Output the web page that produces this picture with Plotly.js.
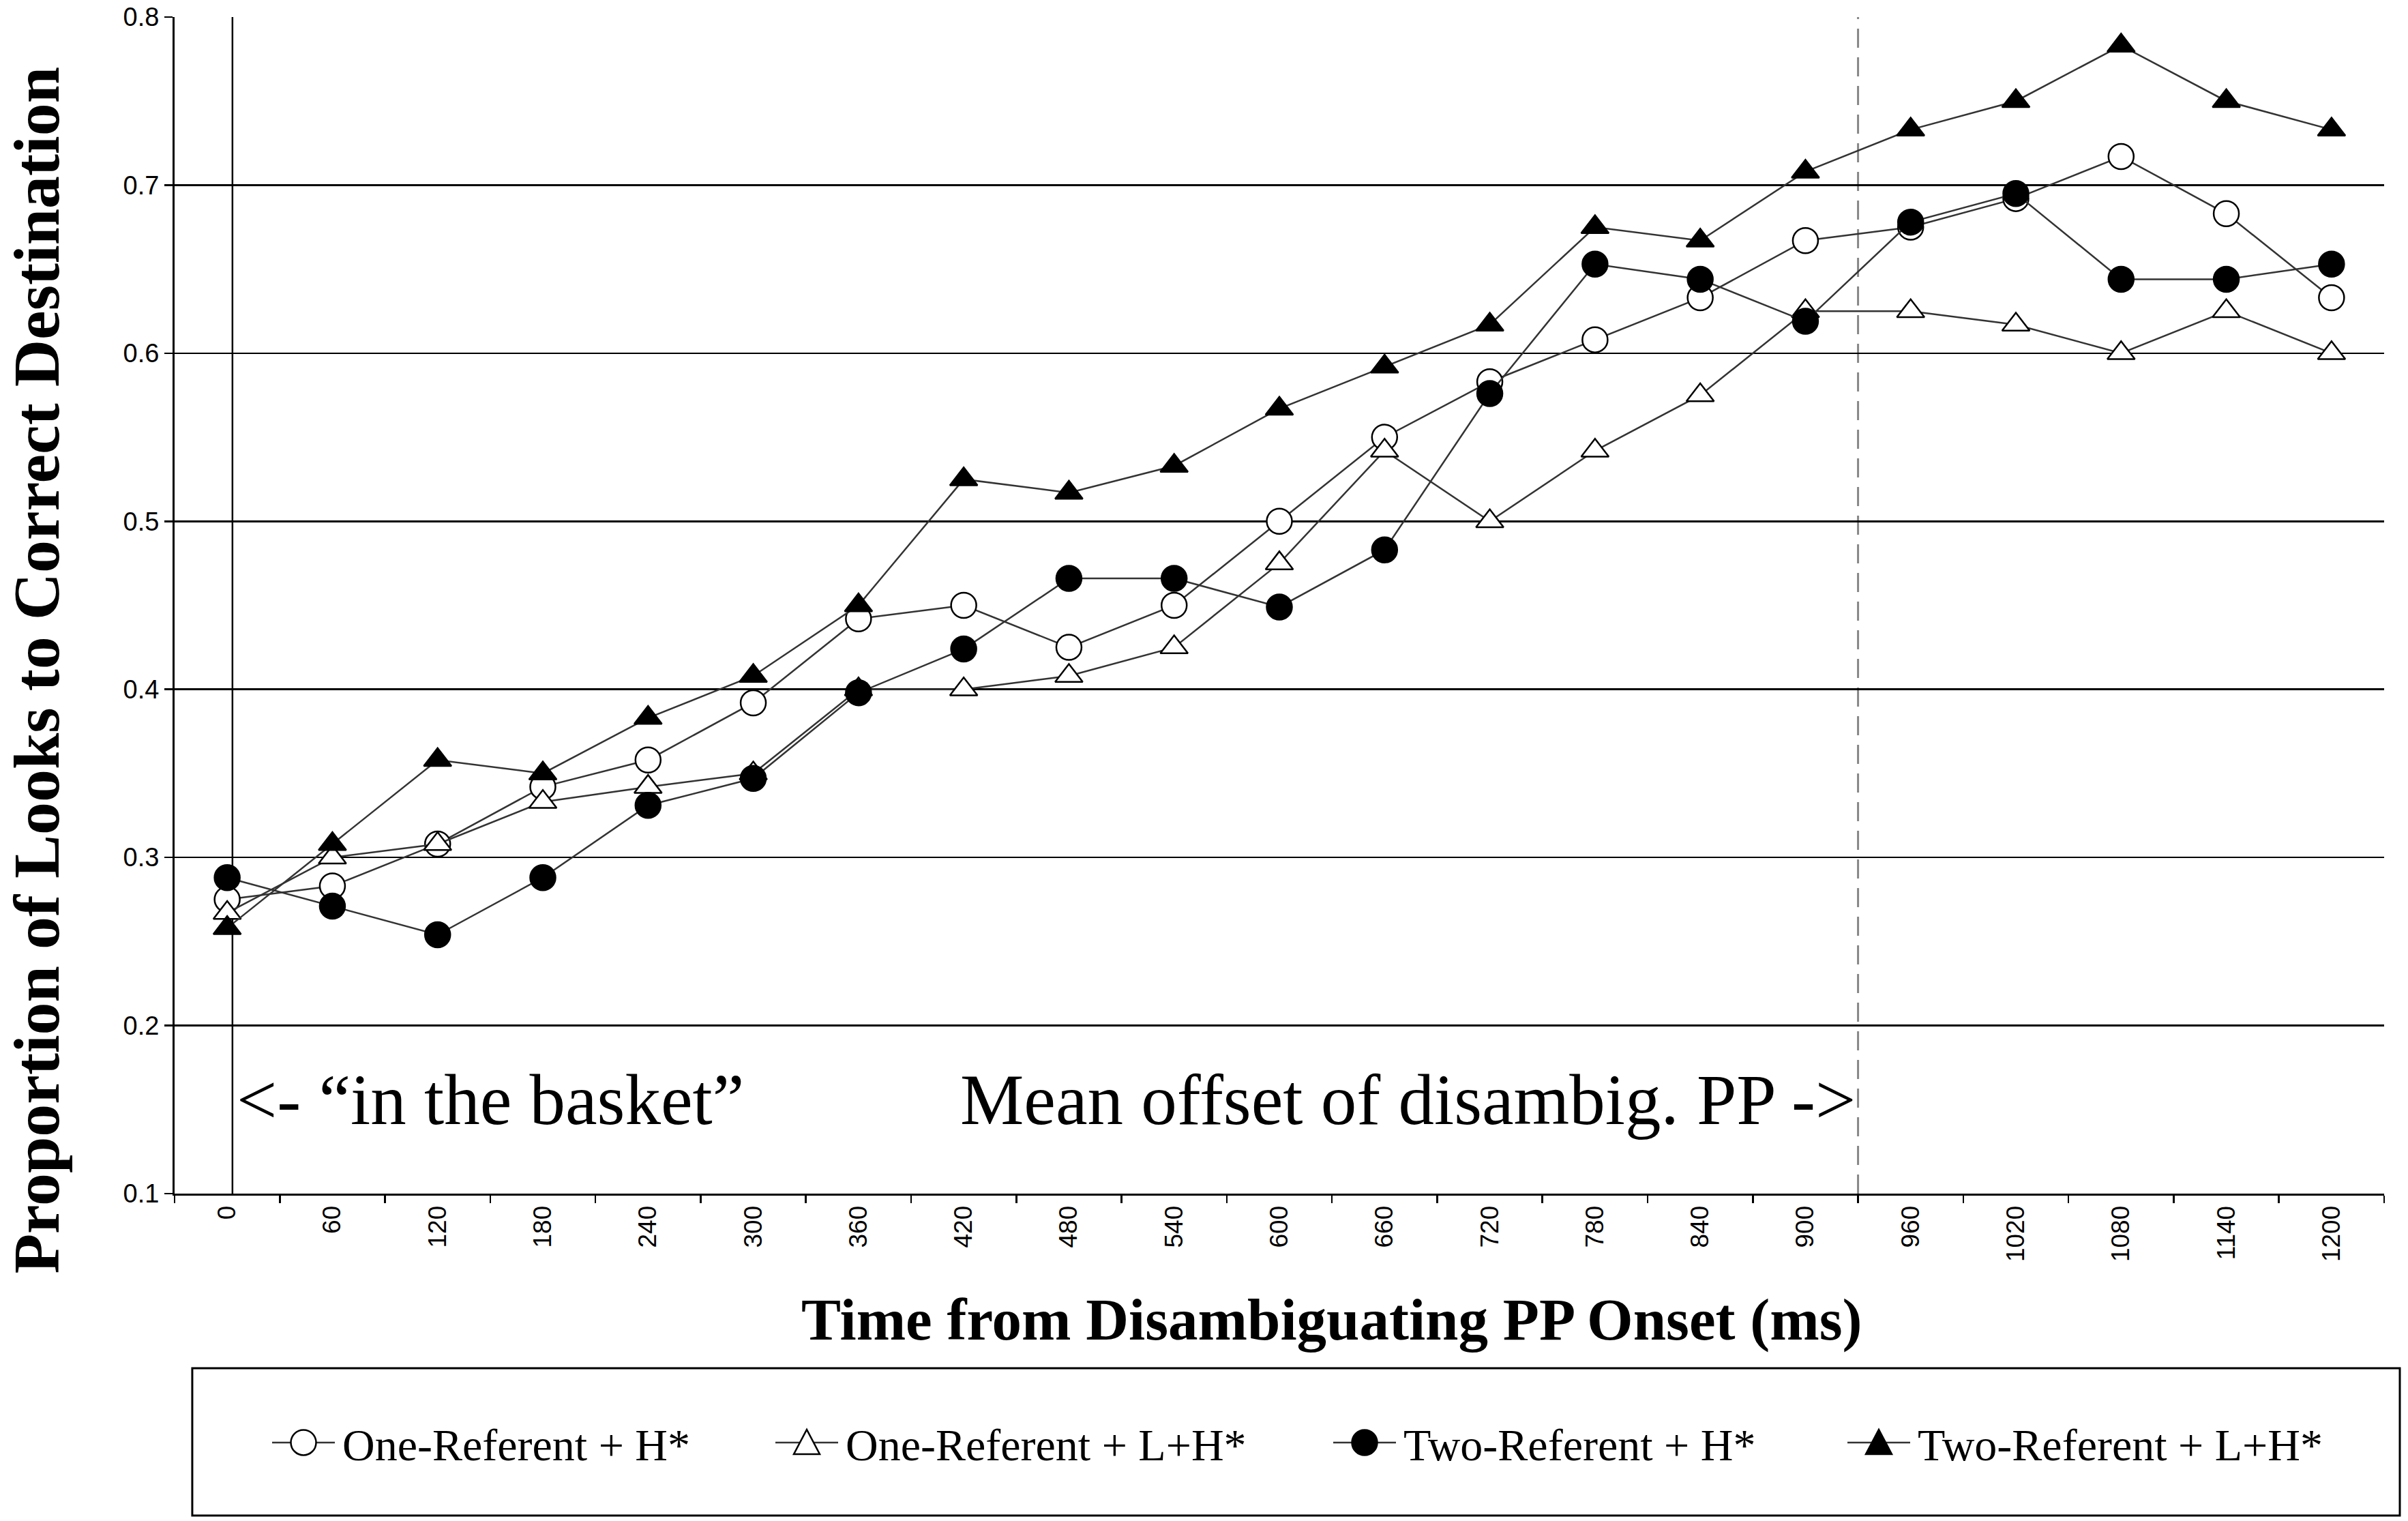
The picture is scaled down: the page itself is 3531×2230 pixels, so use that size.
<!DOCTYPE html>
<html>
<head>
<meta charset="utf-8">
<script src="https://cdn.plot.ly/plotly-3.0.1.min.js"></script>
<style>
  html, body { margin: 0; padding: 0; background: #fff; }
  #chart { width: 3531px; height: 2230px; }
</style>
</head>
<body>
<div id="chart"></div>
<script>
// time bins (ms) after the disambiguating PP onset
var times = ['0', '60', '120', '180', '240', '300', '360', '420', '480', '540', '600',
             '660', '720', '780', '840', '900', '960', '1020', '1080', '1140', '1200'];

// proportion of looks to the correct destination, per condition
var oneRefH   = [0.275, 0.283, 0.308, 0.342, 0.358, 0.392, 0.442, 0.450, 0.425, 0.450, 0.500,
                 0.550, 0.583, 0.608, 0.633, 0.667, 0.675, 0.692, 0.717, 0.683, 0.633];
var oneRefLH  = [0.267, 0.300, 0.308, 0.333, 0.342, 0.350, 0.400, 0.400, 0.408, 0.425, 0.475,
                 0.542, 0.500, 0.542, 0.575, 0.625, 0.625, 0.617, 0.600, 0.625, 0.600];
var twoRefH   = [0.288, 0.271, 0.254, 0.288, 0.331, 0.347, 0.398, 0.424, 0.466, 0.466, 0.449,
                 0.483, 0.576, 0.653, 0.644, 0.619, 0.678, 0.695, 0.644, 0.644, 0.653];
var twoRefLH  = [0.258, 0.308, 0.358, 0.350, 0.383, 0.408, 0.450, 0.525, 0.517, 0.533, 0.567,
                 0.592, 0.617, 0.675, 0.667, 0.708, 0.733, 0.750, 0.783, 0.750, 0.733];

var serif = 'Liberation Serif, Times New Roman, serif';
var sans = 'Liberation Sans, Arial, sans-serif';

function series(name, y, symbol, fill) {
  return {
    x: times,
    y: y,
    name: name,
    type: 'scatter',
    mode: 'lines+markers',
    line: { color: '#333', width: 2.5 },
    marker: {
      symbol: symbol,
      size: symbol.indexOf('triangle') === 0 ? 35 : 37,
      color: fill,
      line: { color: '#000', width: 2.5 }
    }
  };
}

var data = [
  series('One-Referent + H*', oneRefH, 'circle', '#fff'),
  series('One-Referent + L+H*', oneRefLH, 'triangle-up', '#fff'),
  series('Two-Referent + H*', twoRefH, 'circle', '#000'),
  series('Two-Referent + L+H*', twoRefLH, 'triangle-up', '#000')
];

var layout = {
  width: 3531,
  height: 2230,
  margin: { l: 256, r: 35, t: 25, b: 480 },
  paper_bgcolor: '#fff',
  plot_bgcolor: '#fff',
  showlegend: true,
  legend: {
    x: 0.0414, y: -0.2116, xanchor: 'left', yanchor: 'middle',
    orientation: 'h',
    itemwidth: 100,
    bgcolor: 'rgba(0,0,0,0)',
    borderwidth: 0,
    font: { family: serif, size: 66, color: '#000' }
  },
  xaxis: {
    type: 'category',
    range: [-0.5, 20.5],
    tickson: 'boundaries',
    ticks: 'outside',
    ticklen: 11,
    tickwidth: 2.5,
    tickcolor: '#000',
    tickangle: -90,
    tickfont: { family: sans, size: 37, color: '#000' },
    showgrid: false,
    showline: true,
    linecolor: '#000',
    linewidth: 3,
    zeroline: false
  },
  yaxis: {
    range: [0.1, 0.8],
    tick0: 0.1,
    dtick: 0.1,
    tickformat: '.1f',
    ticks: 'outside',
    ticklen: 12,
    tickwidth: 2.5,
    tickcolor: '#000',
    tickfont: { family: sans, size: 38, color: '#000' },
    showgrid: true,
    gridcolor: '#000',
    gridwidth: 2.5,
    showline: true,
    linecolor: '#000',
    linewidth: 3,
    zeroline: false
  },
  shapes: [
    // onset of "in the basket"
    { type: 'line', xref: 'x', yref: 'paper', x0: 0.05, x1: 0.05, y0: 0, y1: 1,
      line: { color: '#000', width: 2.5 }, layer: 'below' },
    // mean offset of the disambiguating PP
    { type: 'line', xref: 'x', yref: 'paper', x0: 15.5, x1: 15.5, y0: 0, y1: 1,
      line: { color: '#888', width: 3, dash: '28px,14px' }, layer: 'below' },
    // legend frame
    { type: 'rect', xref: 'paper', yref: 'paper', x0: 0.008, x1: 1.0071, y0: -0.2736, y1: -0.1484,
      line: { color: '#000', width: 3 } }
  ],
  annotations: [
    { text: '<- \u201cin the basket\u201d', xref: 'x', yref: 'y', x: 0.05, y: 0.156,
      xanchor: 'left', yanchor: 'middle', xshift: 4, showarrow: false,
      font: { family: serif, size: 105, color: '#000' } },
    { text: 'Mean offset of disambig. PP ->', xref: 'x', yref: 'y', x: 15.5, y: 0.156,
      xanchor: 'right', yanchor: 'middle', xshift: -2, showarrow: false,
      font: { family: serif, size: 105, color: '#000' } },
    { text: '<b>Time from Disambiguating PP Onset (ms)</b>', xref: 'paper', yref: 'paper',
      x: 0.5238, y: -0.1067, xanchor: 'center', yanchor: 'middle', showarrow: false,
      font: { family: serif, size: 87, color: '#000' } },
    { text: '<b>Proportion of Looks to Correct Destination</b>', xref: 'paper', yref: 'paper',
      x: -0.0625, y: 0.4446, xanchor: 'center', yanchor: 'middle', textangle: -90, showarrow: false,
      font: { family: serif, size: 96, color: '#000' } }
  ]
};

// Excel-like legend keys: long line with a full-size marker in the middle,
// and each entry placed where the original legend had it (page px of the text start)
var CIRCLE_KEY = 'M18.5,0A18.5,18.5 0 1,1 0,-18.5A18.5,18.5 0 0,1 18.5,0Z';
var TRIANGLE_KEY = 'M-19,17H19L0,-19Z';
var entryTextLeft = {
  'One-Referent + H*': 502,
  'One-Referent + L+H*': 1240,
  'Two-Referent + H*': 2058,
  'Two-Referent + L+H*': 2812
};

function setAttr(el, name, val) {
  if (el.getAttribute(name) !== val) el.setAttribute(name, val);
}

function bigLegendKeys() {
  var gd = document.getElementById('chart');
  var gdLeft = gd.getBoundingClientRect().left;
  gd.querySelectorAll('text.legendtext').forEach(function (txt) {
    var item = txt.parentNode;
    while (item && !(item.classList && item.classList.contains('traces'))) item = item.parentNode;
    if (!item) return;
    var tx = parseFloat(txt.getAttribute('x')) || 40;
    var mid = tx - 57;
    item.querySelectorAll('.legendlines path').forEach(function (p) {
      setAttr(p, 'd', 'M' + (tx - 103) + ',0h92');
    });
    item.querySelectorAll('.legendpoints path').forEach(function (p) {
      var isCircle = (p.getAttribute('d') || '').indexOf('A') >= 0;
      setAttr(p, 'd', isCircle ? CIRCLE_KEY : TRIANGLE_KEY);
      setAttr(p, 'transform', 'translate(' + mid + ',0)');
      if (p.style.strokeWidth !== '2.5px') p.style.strokeWidth = '2.5px';
    });
    var target = entryTextLeft[txt.textContent];
    if (target !== undefined) {
      var delta = target - (txt.getBoundingClientRect().left - gdLeft);
      if (Math.abs(delta) > 0.5) {
        var m = /translate\(\s*([-\d.e]+)[ ,]+([-\d.e]+)\s*\)/.exec(item.getAttribute('transform') || '');
        var x0 = m ? parseFloat(m[1]) : 0;
        var y0 = m ? parseFloat(m[2]) : 0;
        item.setAttribute('transform', 'translate(' + (x0 + delta) + ',' + y0 + ')');
      }
    }
  });
  // entries now reach past the legend's own box, so drop its clipping
  gd.querySelectorAll('.legend [clip-path], .legend[clip-path]').forEach(function (el) {
    el.removeAttribute('clip-path');
  });
}

// legends may be redrawn or restyled after the first pass, so patch again on any change
new MutationObserver(bigLegendKeys).observe(document.getElementById('chart'),
  { childList: true, subtree: true, attributes: true, attributeFilter: ['d', 'transform'] });

Plotly.newPlot('chart', data, layout, { staticPlot: true, displayModeBar: false })
  .then(function (gd) {
    bigLegendKeys();
    gd.on('plotly_afterplot', bigLegendKeys);
    [0, 50, 200, 500, 1000].forEach(function (t) { setTimeout(bigLegendKeys, t); });
  });
</script>
</body>
</html>
